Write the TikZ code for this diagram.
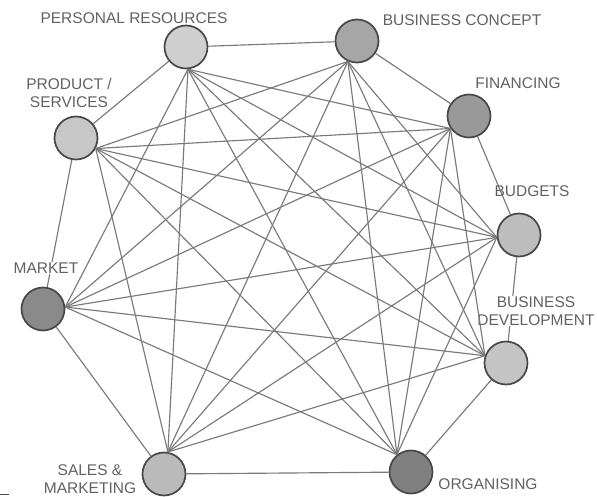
\documentclass[tikz,border=0pt]{standalone}
\usepackage{fontspec}
\setmainfont{Liberation Sans}
\tikzset{
  hub/.style={circle,draw=black!72,line width=1.7pt,minimum size=43pt,inner sep=0pt,fill=#1},
  link/.style={draw=black!52,line width=1.15pt},
  tag/.style={text=black!62,align=center,inner sep=1pt,
              font=\fontsize{15.5}{18}\selectfont},
}

\begin{document}
\begin{tikzpicture}[x=1pt,y=-1pt]
		\useasboundingbox (0,0) rectangle (597,497);

		% the nine circles
		\node[hub=black!19] (pr)  at (186,47)  {};
		\node[hub=black!35] (bc)  at (357,41)  {};
		\node[hub=black!40] (fin) at (469,116) {};
		\node[hub=black!26] (bud) at (519,235) {};
		\node[hub=black!23] (dev) at (506,363) {};
		\node[hub=black!50] (org) at (411,472) {};
		\node[hub=black!27] (sal) at (164,474) {};
		\node[hub=black!46] (mkt) at (43,309)  {};
		\node[hub=black!22] (prd) at (76,138)  {};

		% points where the inner lines meet
		\coordinate (pr-f)  at (pr.-85);
		\coordinate (bc-f)  at (bc.-114);
		\coordinate (fin-f) at (fin.-146);
		\coordinate (bud-f) at (bud.-174);
		\coordinate (dev-f) at (dev.161);
		\coordinate (org-f) at (org.129);
		\coordinate (sal-f) at (sal.80);
		\coordinate (mkt-f) at (mkt.5);
		\coordinate (prd-f) at (prd.-28);

		% outer ring
		\foreach \a/\b in {pr/bc,bc/fin,fin/bud,bud/dev,dev/org,org/sal,sal/mkt,mkt/prd,prd/pr}
			\draw[link] (\a) -- (\b);

		\node[tag] (pr-t)  at (134,18)  {PERSONAL RESOURCES};
		\node[tag] (bc-t)  at (462,20)  {BUSINESS CONCEPT};
		\node[tag] (fin-t) at (518,83)  {FINANCING};
		\node[tag] (bud-t) at (532,191) {BUDGETS};
		\node[tag,fill=white] (dev-t) at (536,311) {BUSINESS\\DEVELOPMENT};
		\node[tag] (org-t) at (488,484) {ORGANISING};
		\node[tag] (sal-t) at (90,479)  {SALES \&\\MARKETING};
		\node[tag,fill=white] (mkt-t) at (46,268)  {MARKET};
		\node[tag] (prd-t) at (69,93)   {PRODUCT /\\SERVICES};

		% inner lines
		\foreach \a/\b in {pr/fin,pr/bud,pr/dev,pr/org,pr/sal,pr/mkt,
		                   bc/bud,bc/dev,bc/org,bc/sal,bc/mkt,bc/prd,
		                   fin/dev,fin/org,fin/sal,fin/mkt,fin/prd,
		                   bud/org,bud/sal,bud/mkt,bud/prd,
		                   dev/sal,dev/mkt,dev/prd,
		                   org/mkt,org/prd,
		                   sal/prd}
			\draw[link] (\a-f) -- (\b-f);

		\draw[black!70,line width=1pt] (0,494) -- (9,494);
\end{tikzpicture}
\end{document}
